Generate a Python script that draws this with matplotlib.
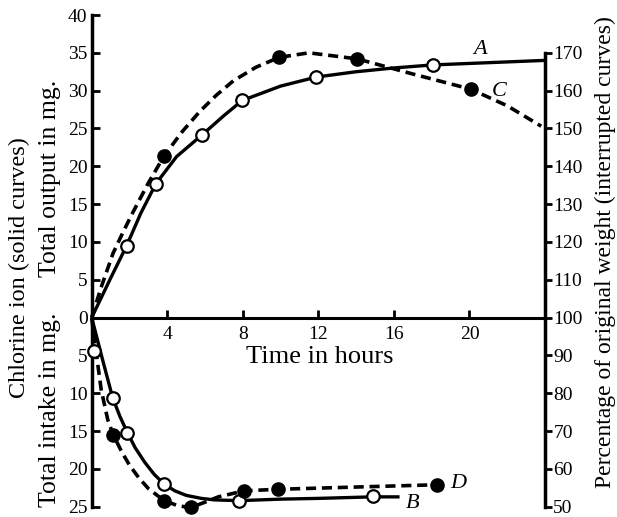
import matplotlib
matplotlib.use("Agg")
import matplotlib.pyplot as plt
from matplotlib.ticker import FuncFormatter

# ---- data (hours, mg Cl; intake plotted as negative) ----
# Curve A: total output (solid, open circles)
a_pts_x = [1.85, 3.4, 5.82, 7.97, 11.9, 18.05]
a_pts_y = [9.5, 17.7, 24.1, 28.7, 31.8, 33.4]
a_line_x = [0, 1.0, 1.85, 2.6, 3.4, 4.5, 5.82, 7.0, 7.97, 10.0, 11.9, 14.0, 16.0, 18.05, 24.0]
a_line_y = [0, 5.2, 9.5, 13.8, 17.7, 21.3, 24.1, 26.7, 28.7, 30.6, 31.8, 32.5, 33.0, 33.4, 34.0]

# Curve C: weight % during output (dashed, filled) on the mg scale (% = 100 + 2*mg)
c_pts_x = [3.84, 9.93, 14.06, 20.06]
c_pts_y = [21.4, 34.4, 34.2, 30.2]
c_line_x = [0, 0.5, 1.13, 1.7, 2.2, 3.0, 3.84, 4.8, 5.74, 6.6, 7.5, 8.7, 9.93, 11.5, 14.06, 17.0, 20.06, 22.0, 23.8]
c_line_y = [0, 4.0, 8.5, 11.5, 14.0, 17.8, 21.4, 24.6, 27.3, 29.4, 31.3, 33.1, 34.4, 35.0, 34.2, 32.2, 30.2, 28.0, 25.3]

# Curve B: total intake (solid, open circles)
b_pts_x = [0.1, 1.11, 1.89, 3.83, 7.81, 14.88]
b_pts_y = [-4.4, -10.6, -15.2, -22.0, -24.2, -23.6]
b_line_x = [0, 0.6, 1.11, 1.5, 1.89, 2.3, 2.8, 3.3, 3.83, 4.4, 5.0, 5.8, 6.5, 7.81, 10.0, 12.0, 14.88, 16.3]
b_line_y = [0, -5.8, -10.6, -13.1, -15.2, -17.2, -19.1, -20.7, -22.0, -22.9, -23.5, -23.9, -24.1, -24.2, -24.0, -23.9, -23.7, -23.7]

# Curve D: weight % during intake (dashed, filled)
d_pts_x = [1.14, 3.83, 5.26, 8.08, 9.85, 18.26]
d_pts_y = [-15.5, -24.2, -25.1, -22.9, -22.7, -22.1]
d_line_x = [0, 0.15, 0.5, 0.85, 1.14, 1.6, 2.0, 2.5, 3.0, 3.83, 4.6, 5.26, 6.0, 6.7, 8.08, 9.85, 14.0, 18.26]
d_line_y = [0, -3.0, -9.5, -13.5, -15.5, -17.8, -19.5, -21.2, -22.6, -24.2, -24.9, -25.1, -24.4, -23.7, -22.9, -22.7, -22.4, -22.1]

x_ticks = [4, 8, 12, 16, 20]
left_ticks = [-25, -20, -15, -10, -5, 0, 5, 10, 15, 20, 25, 30, 35, 40]
right_ticks = [50, 60, 70, 80, 90, 100, 110, 120, 130, 140, 150, 160, 170]

W, H = 617, 517
fig = plt.figure(figsize=(W / 100, H / 100), dpi=100)
plt.rcParams['font.family'] = ['Liberation Serif', 'DejaVu Serif']

def fx(px):
    return px / W

def fy(py):
    return 1 - py / H

left_px, right_px, top_px, bot_px = 91.7, 545.0, 15.0, 506.7
ax = fig.add_axes([fx(left_px), fy(bot_px), fx(right_px) - fx(left_px), fy(top_px) - fy(bot_px)])
ax.set_xlim(0, 24)
ax.set_ylim(-25, 40)
ax.patch.set_alpha(0)

lw_spine = 2.5
for s in ['top', 'right']:
    ax.spines[s].set_visible(False)
ax.spines['left'].set_linewidth(lw_spine)
ax.spines['left'].set_bounds(-25, 40)
ax.spines['bottom'].set_position(('data', 0))
ax.spines['bottom'].set_linewidth(2.2)
ax.spines['bottom'].set_bounds(0, 24)

ax.set_xticks(x_ticks)
ax.set_xticklabels([str(t) for t in x_ticks])
ax.set_yticks(left_ticks)
ax.yaxis.set_major_formatter(FuncFormatter(lambda v, p: f"{abs(int(round(v)))}"))
ax.tick_params(axis='x', direction='in', length=6, width=2, labelsize=14, pad=6)
ax.tick_params(axis='y', direction='in', length=6, width=2, labelsize=14, pad=3)

ax2 = ax.twinx()
ax2.set_ylim(50, 180)
for s in ['top', 'left', 'bottom']:
    ax2.spines[s].set_visible(False)
ax2.spines['right'].set_linewidth(lw_spine)
ax2.spines['right'].set_bounds(50, 170)
ax2.set_yticks(right_ticks)
ax2.tick_params(axis='y', direction='out', length=5, width=2, labelsize=14, pad=1)

solid_kw = dict(color='black', lw=2.4, solid_capstyle='butt', solid_joinstyle='round', clip_on=False, zorder=3)
dash_kw = dict(color='black', lw=2.6, linestyle=(0, (2.8, 1.6)), clip_on=False, zorder=3)
open_kw = dict(linestyle='none', marker='o', ms=9, mfc='white', mec='black', mew=1.6, clip_on=False, zorder=5)
fill_kw = dict(linestyle='none', marker='o', ms=9.5, mfc='black', mec='black', clip_on=False, zorder=5)

ax.plot(a_line_x, a_line_y, **solid_kw)
ax.plot(b_line_x, b_line_y, **solid_kw)
ax.plot(c_line_x, c_line_y, **dash_kw)
ax.plot(d_line_x, d_line_y, **dash_kw)
ax.plot(a_pts_x, a_pts_y, **open_kw)
ax.plot(b_pts_x, b_pts_y, **open_kw)
ax.plot(c_pts_x, c_pts_y, **fill_kw)
ax.plot(d_pts_x, d_pts_y, **fill_kw)

lab_kw = dict(fontsize=16, style='italic', ha='center', va='center')
fig.text(fx(480), fy(50), 'A', **lab_kw)
fig.text(fx(499), fy(92), 'C', **lab_kw)
fig.text(fx(458), fy(483), 'D', **lab_kw)
fig.text(fx(413), fy(504), 'B', **lab_kw)

fig.text(fx(320), fy(357), 'Time in hours', fontsize=19, ha='center', va='center')
fig.text(fx(19), fy(268), 'Chlorine ion (solid curves)', fontsize=17.5, rotation=90, ha='center', va='center')
fig.text(fx(50), fy(178), 'Total output in mg.', fontsize=18.5, rotation=90, ha='center', va='center')
fig.text(fx(50), fy(410), 'Total intake in mg.', fontsize=18.5, rotation=90, ha='center', va='center')
fig.text(fx(605), fy(252), 'Percentage of original weight (interrupted curves)', fontsize=17,
         rotation=90, ha='center', va='center')

fig.savefig('out.png', dpi=100)
